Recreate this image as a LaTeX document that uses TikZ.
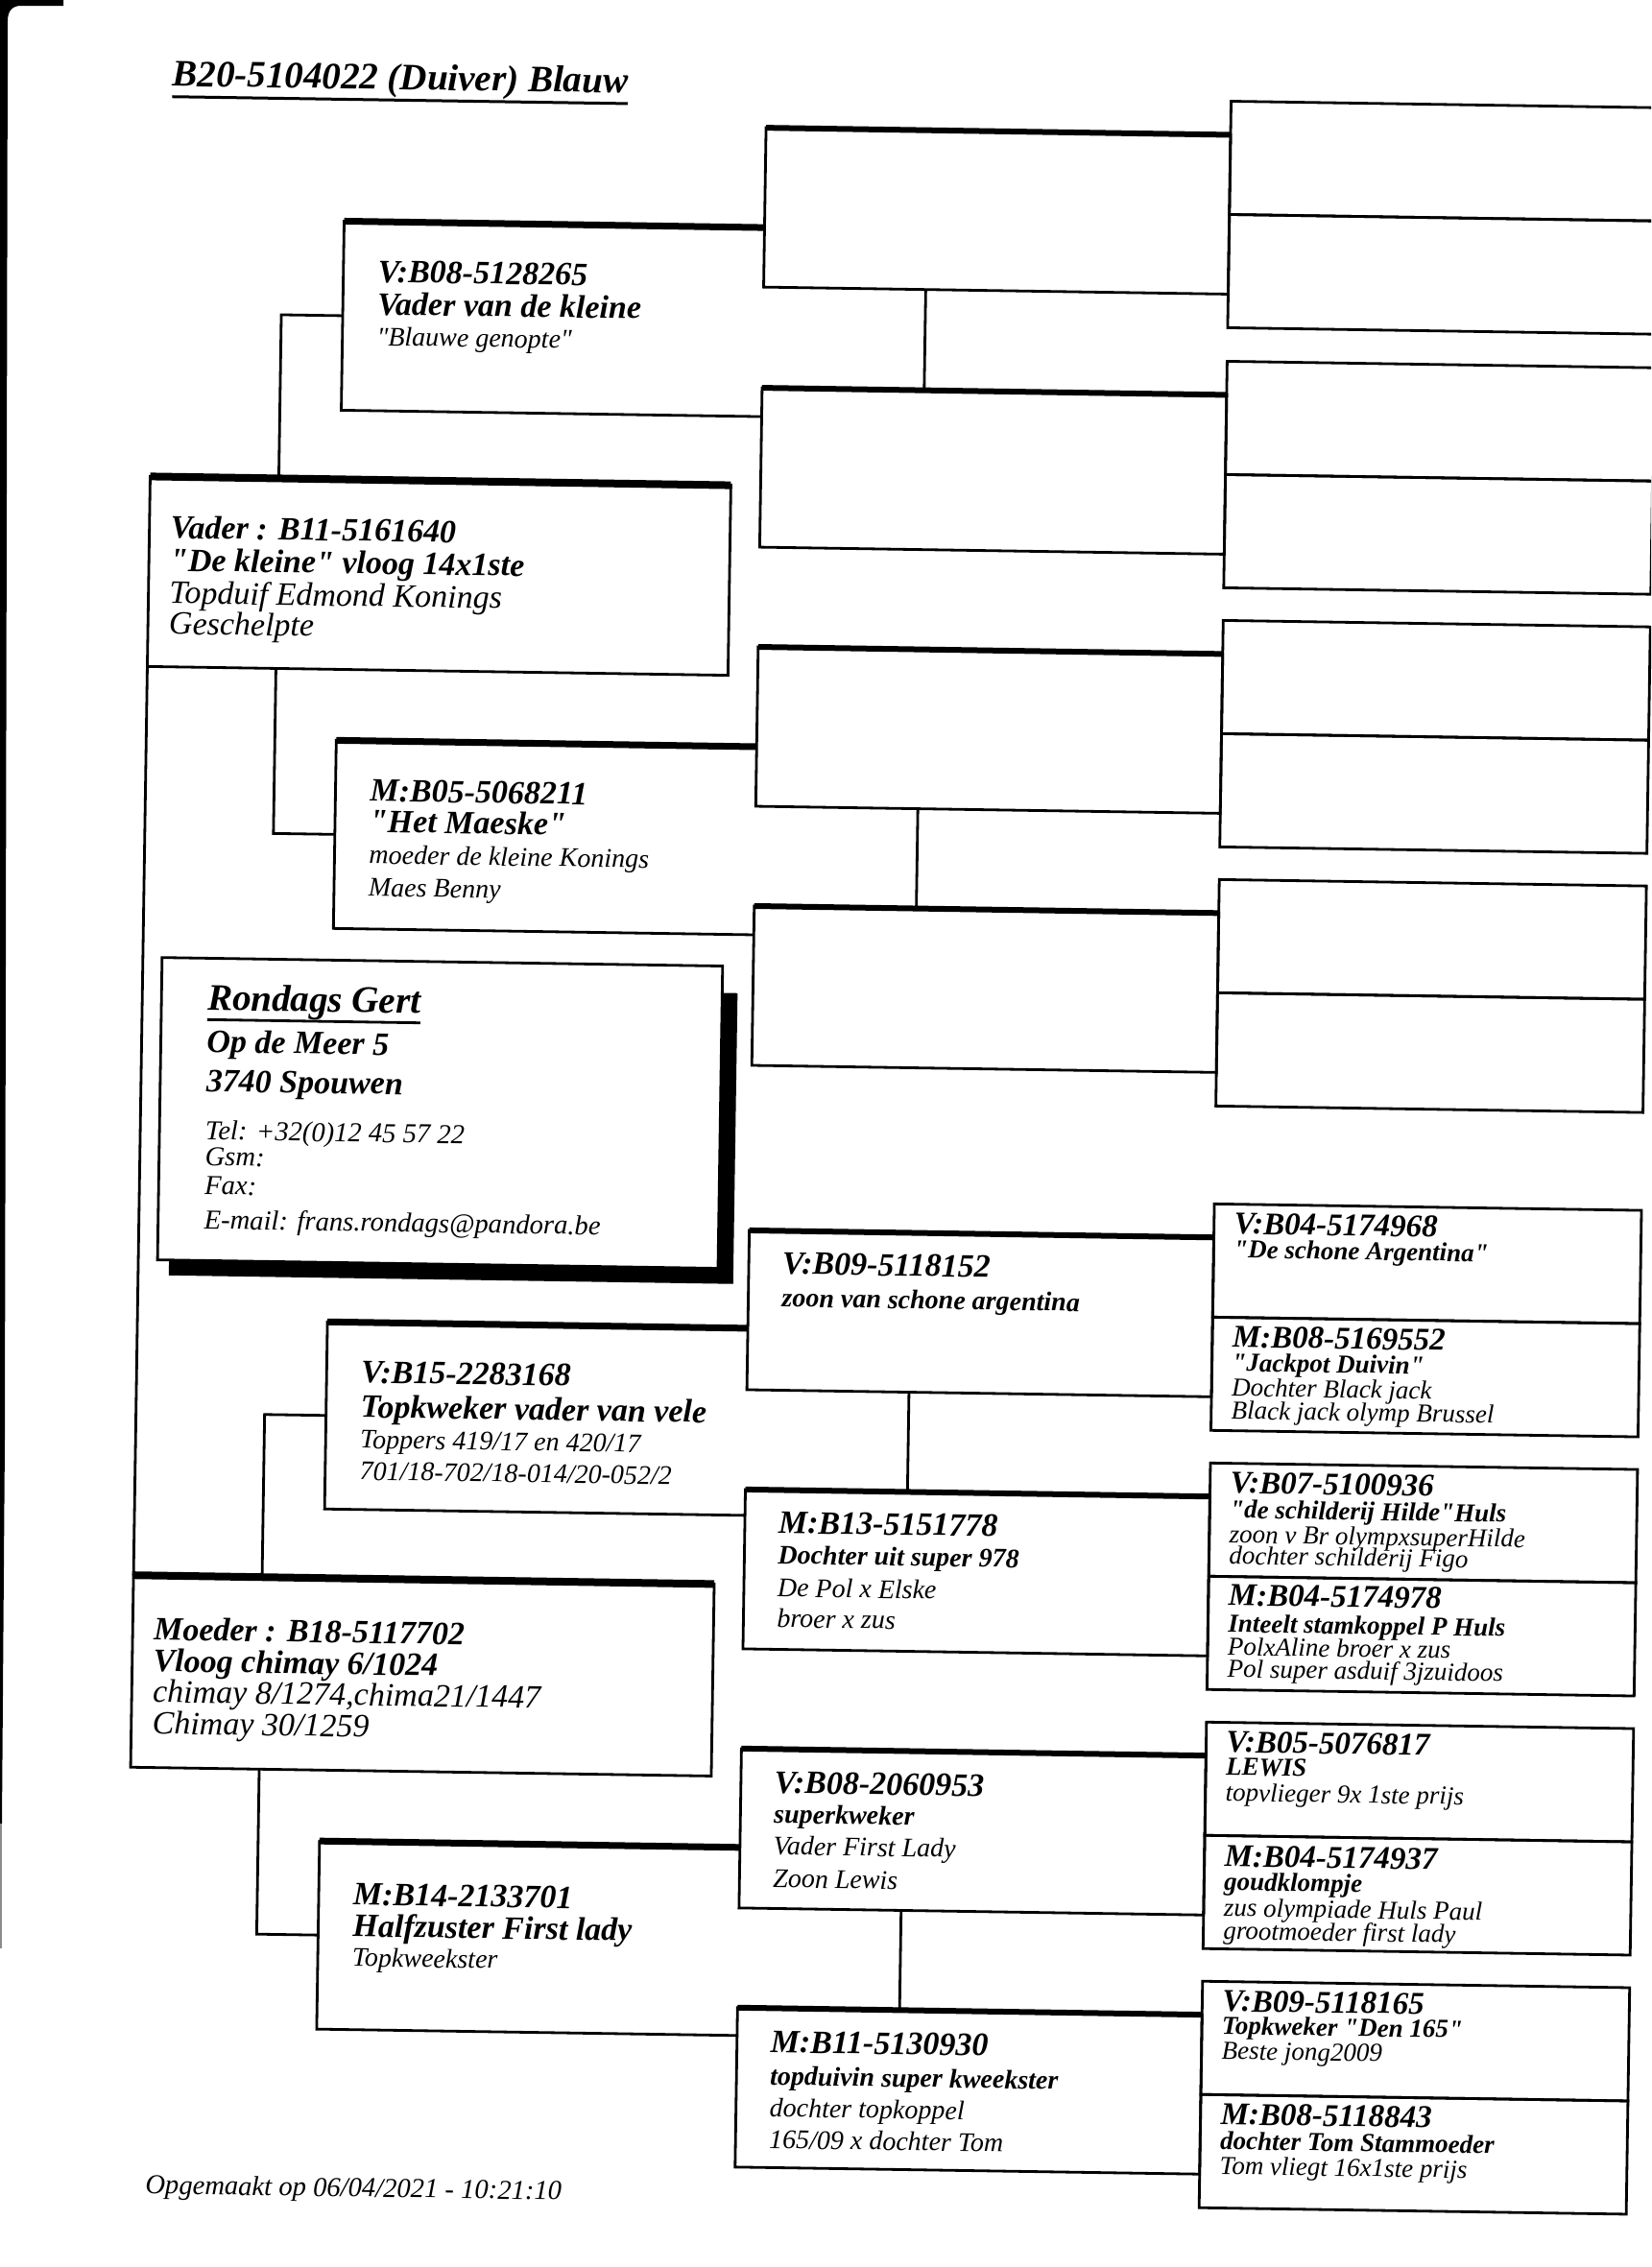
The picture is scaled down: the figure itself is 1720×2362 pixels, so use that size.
\documentclass[tikz,border=0pt]{standalone}
\usepackage{fontspec}
\setmainfont{Liberation Serif}[Ligatures=TeXOff]
\usetikzlibrary{calc}
\newcommand\fb[1]{\fontsize{#1}{#1}\selectfont\bfseries\itshape}
\newcommand\fr[1]{\fontsize{#1}{#1}\selectfont\mdseries\itshape}
\tikzset{
  txt/.style={anchor=base west, inner sep=0pt, outer sep=0pt},
  ln/.style={line width=1.4pt},
  pbox/.style={draw, line width=1.4pt, anchor=north west, inner sep=0pt, outer sep=0pt},
  ghost/.style={anchor=north west, inner sep=0pt, outer sep=0pt},
  topA/.style={line width=4pt},
  topB/.style={line width=3.5pt},
  topC/.style={line width=3pt},
}
% full box: name, X, Y, W, H (pixels)
\newcommand\pbx[6][]{\node[pbox,#1,minimum width=#5*0.5pt,minimum height=#6*0.5pt] (#2) at (#3,#4) {};}
% open box (right side closed by the next generation)
\newcommand\gbx[5]{\node[ghost,minimum width=#4*0.5pt,minimum height=#5*0.5pt] (#1) at (#2,#3) {};
  \draw[ln] (#1.north east) -- (#1.north west) -- (#1.south west) -- (#1.south east);
  \draw[topB] (#1.north west) -- (#1.north east);}
\newcommand\tl[4]{\node[txt] (#1) at (#2,#3) {#4};}
\begin{document}
\begin{tikzpicture}[x=0.5pt,y=-0.5pt]
\fill[white] (0,0) rectangle (1720,2362);
\clip (0,0) rectangle (1720,2362);
% scanner edge
\fill[black] (0,0) -- (66,0) -- (66,6) -- (22,6) .. controls (12,6) and (8,12) .. (8,22) -- (5,1500) -- (2,1900) -- (0,1900) -- cycle;
\fill[black!45] (0,1900) rectangle (2,2030);

\begin{scope}[rotate=-0.87, transform shape]
% ---------- title
\tl{title}{181}{87}{\fb{19.5}B20-5104022 (Duiver) Blauw}
\draw[line width=1.5pt] ($(title.base west)+(0,11)$) -- ($(title.base east)+(0,11)$);

% ---------- generation 4 (great-grandparents)
\pbx{d1v}{1284}{86}{445}{118}   \pbx{d1m}{1284}{204}{445}{118}
\pbx{d2v}{1284}{357}{445}{118}  \pbx{d2m}{1284}{475}{445}{118}
\pbx{d3v}{1284}{627}{445}{118}  \pbx{d3m}{1284}{745}{445}{118}
\pbx{d4v}{1284}{897}{445}{118}  \pbx{d4m}{1284}{1015}{445}{118}
\pbx{d5v}{1284}{1235}{445}{118} \pbx{d5m}{1284}{1353}{445}{118}
\pbx{d6v}{1284}{1505}{445}{118} \pbx{d6m}{1284}{1623}{445}{118}
\pbx{d7v}{1284}{1775}{445}{118} \pbx{d7m}{1284}{1893}{445}{118}
\pbx{d8v}{1284}{2045}{445}{118} \pbx{d8m}{1284}{2163}{445}{118}

% ---------- generation 3 (grandparents)
\pbx{c1}{800}{121}{484}{166}
\pbx{c2}{800}{392}{484}{166}
\pbx{c3}{800}{662}{484}{166}
\pbx{c4}{800}{932}{484}{166}
\pbx{c5}{800}{1270}{484}{166}
\pbx{c6}{800}{1540}{484}{166}
\pbx{c7}{800}{1810}{484}{166}
\pbx{c8}{800}{2080}{484}{166}
\foreach \n in {c1,c2,c3,c4,c5,c6,c7,c8}{\draw[topC] (\n.north west) -- (\n.north east);}
\draw[ln] ($(c1.south west)!0.349!(c1.south east)$) -- ($(c2.north west)!0.349!(c2.north east)$);
\draw[ln] ($(c3.south west)!0.349!(c3.south east)$) -- ($(c4.north west)!0.349!(c4.north east)$);
\draw[ln] ($(c5.south west)!0.349!(c5.south east)$) -- ($(c6.north west)!0.349!(c6.north east)$);
\draw[ln] ($(c7.south west)!0.349!(c7.south east)$) -- ($(c8.north west)!0.349!(c8.north east)$);

% ---------- generation 2
\gbx{b1}{362}{225}{438}{197}
\gbx{b2}{362}{766}{438}{196}
\gbx{b3}{362}{1372}{438}{195}
\gbx{b4}{362}{1913}{438}{196}

% ---------- generation 1 (parents)
\pbx{va}{164}{494}{605}{198}
\draw[topA] (va.north west) -- (va.north east);
\pbx{mo}{164}{1639}{605}{200}
\draw[topA] (mo.north west) -- (mo.north east);
\draw[ln] (va.south west) -- (mo.north west);

% connectors generation 1 -> 2
\draw[ln] (b1.west) -- ($(b1.west)!-0.1461!(b1.east)$) -- ($(va.north west)!0.2215!(va.north east)$);
\draw[ln] (b2.west) -- ($(b2.west)!-0.1461!(b2.east)$) -- ($(va.south west)!0.2215!(va.south east)$);
\draw[ln] (b3.west) -- ($(b3.west)!-0.1461!(b3.east)$) -- ($(mo.north west)!0.2215!(mo.north east)$);
\draw[ln] (b4.west) -- ($(b4.west)!-0.1461!(b4.east)$) -- ($(mo.south west)!0.2215!(mo.south east)$);

% ---------- owner card
\node[ghost, fill=black, minimum width=294pt, minimum height=151.5pt] (shadow) at (196,1023) {};
\pbx[fill=white]{rg}{184}{995}{584}{315}
\tl{r1}{232}{1049}{\fb{19.5}Rondags Gert}
\draw[line width=1.4pt] ($(r1.base west)+(0,10)$) -- ($(r1.base east)+(0,10)$);
\tl{r2}{232}{1093}{\fb{17}Op de Meer 5}
\tl{r3}{232}{1134}{\fb{17}3740 Spouwen}
\tl{r4}{232}{1184}{\fr{14.3}Tel: +32(0)12 45 57 22}
\tl{r5}{232}{1211}{\fr{14.3}Gsm:}
\tl{r6}{232}{1241}{\fr{14.3}Fax:}
\tl{r7}{232}{1277}{\fr{14.3}E-mail: frans.rondags@pandora.be}

% ---------- texts generation 1
\tl{va1}{186}{558}{\fb{17}Vader : B11-5161640}
\tl{va2}{186}{592}{\fb{17}"De kleine" vloog 14x1ste}
\tl{va3}{186}{626}{\fr{17}Topduif Edmond Konings}
\tl{va4}{186}{658}{\fr{17}Geschelpte}
\tl{mo1}{186}{1706}{\fb{17}Moeder : B18-5117702}
\tl{mo2}{186}{1739}{\fb{17}Vloog chimay 6/1024}
\tl{mo3}{186}{1771}{\fr{17}chimay 8/1274,chima21/1447}
\tl{mo4}{186}{1804}{\fr{17}Chimay 30/1259}

% ---------- texts generation 2
\tl{b11}{398}{288}{\fb{17}V:B08-5128265}
\tl{b12}{398}{322}{\fb{17}Vader van de kleine}
\tl{b13}{398}{354}{\fr{14}"Blauwe genopte"}
\tl{b21}{398}{829}{\fb{17}M:B05-5068211}
\tl{b22}{398}{861}{\fb{17}"Het Maeske"}
\tl{b23}{398}{894}{\fr{14}moeder de kleine Konings}
\tl{b24}{398}{928}{\fr{14}Maes Benny}
\tl{b31}{398}{1435}{\fb{17}V:B15-2283168}
\tl{b32}{398}{1471}{\fb{17}Topkweker vader van vele}
\tl{b33}{398}{1503}{\fr{14}Toppers 419/17 en 420/17}
\tl{b34}{398}{1536}{\fr{14}701/18-702/18-014/20-052/2}
\tl{b41}{398}{1979}{\fb{17}M:B14-2133701}
\tl{b42}{398}{2012}{\fb{17}Halfzuster First lady}
\tl{b43}{398}{2043}{\fr{14}Topkweekster}

% ---------- texts generation 3
\tl{c51}{835}{1315}{\fb{17}V:B09-5118152}
\tl{c52}{835}{1349}{\fb{14}zoon van schone argentina}
\tl{c61}{835}{1585}{\fb{17}M:B13-5151778}
\tl{c62}{835}{1617}{\fb{14}Dochter uit super 978}
\tl{c63}{835}{1651}{\fr{14}De Pol x Elske}
\tl{c64}{835}{1683}{\fr{14}broer x zus}
\tl{c71}{835}{1856}{\fb{17}V:B08-2060953}
\tl{c72}{835}{1887}{\fb{14}superkweker}
\tl{c73}{835}{1920}{\fr{14}Vader First Lady}
\tl{c74}{835}{1954}{\fr{14}Zoon Lewis}
\tl{c81}{835}{2126}{\fb{17}M:B11-5130930}
\tl{c82}{835}{2160}{\fb{14}topduivin super kweekster}
\tl{c83}{835}{2193}{\fr{14}dochter topkoppel}
\tl{c84}{835}{2226}{\fr{14}165/09 x dochter Tom}

% ---------- texts generation 4
\tl{d5v1}{1305}{1266}{\fb{16.5}V:B04-5174968}
\tl{d5v2}{1305}{1291}{\fb{13.5}"De schone Argentina"}
\tl{d5m1}{1305}{1384}{\fb{16.5}M:B08-5169552}
\tl{d5m2}{1305}{1409}{\fb{13.5}"Jackpot Duivin"}
\tl{d5m3}{1305}{1435}{\fr{13.5}Dochter Black jack}
\tl{d5m4}{1305}{1459}{\fr{13.5}Black jack olymp Brussel}
\tl{d6v1}{1305}{1536}{\fb{16.5}V:B07-5100936}
\tl{d6v2}{1305}{1562}{\fb{13.5}"de schilderij Hilde"Huls}
\tl{d6v3}{1305}{1588}{\fr{13.5}zoon v Br olympxsuperHilde}
\tl{d6v4}{1305}{1610}{\fr{13.5}dochter schilderij Figo}
\tl{d6m1}{1305}{1653}{\fb{16.5}M:B04-5174978}
\tl{d6m2}{1305}{1681}{\fb{13.5}Inteelt stamkoppel P Huls}
\tl{d6m3}{1305}{1705}{\fr{13.5}PolxAline broer x zus}
\tl{d6m4}{1305}{1728}{\fr{13.5}Pol super asduif 3jzuidoos}
\tl{d7v1}{1305}{1806}{\fb{16.5}V:B05-5076817}
\tl{d7v2}{1305}{1830}{\fb{13.5}LEWIS}
\tl{d7v3}{1305}{1857}{\fr{13.5}topvlieger 9x 1ste prijs}
\tl{d7m1}{1305}{1925}{\fb{16.5}M:B04-5174937}
\tl{d7m2}{1305}{1950}{\fb{13.5}goudklompje}
\tl{d7m3}{1305}{1977}{\fr{13.5}zus olympiade Huls Paul}
\tl{d7m4}{1305}{2001}{\fr{13.5}grootmoeder first lady}
\tl{d8v1}{1305}{2076}{\fb{16.5}V:B09-5118165}
\tl{d8v2}{1305}{2100}{\fb{13.5}Topkweker "Den 165"}
\tl{d8v3}{1305}{2126}{\fr{13.5}Beste jong2009}
\tl{d8m1}{1305}{2194}{\fb{16.5}M:B08-5118843}
\tl{d8m2}{1305}{2220}{\fb{13.5}dochter Tom Stammoeder}
\tl{d8m3}{1305}{2246}{\fr{13.5}Tom vliegt 16x1ste prijs}

% ---------- footer
\tl{foot}{186}{2283}{\fr{14.3}Opgemaakt op 06/04/2021 - 10:21:10}
\end{scope}
\end{tikzpicture}
\end{document}
